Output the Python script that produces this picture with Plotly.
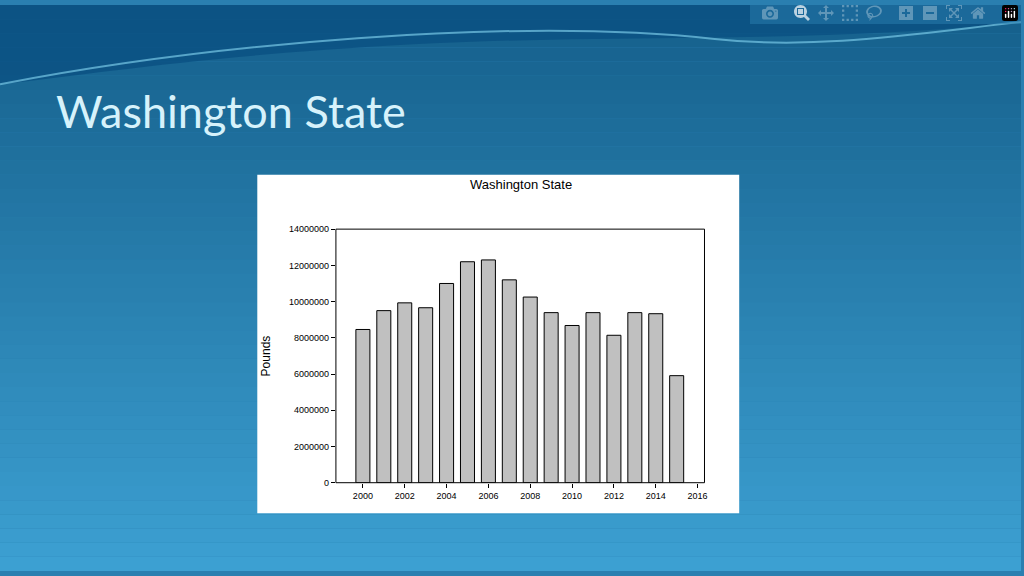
import plotly.graph_objects as go

years = list(range(2000, 2016))
pounds = [8460000, 9500000, 9930000, 9660000, 11000000, 12200000, 12300000, 11200000,
          10250000, 9390000, 8680000, 9390000, 8140000, 9390000, 9330000, 5910000]
x_ticks = list(range(2000, 2017, 2))
y_ticks = list(range(0, 14000001, 2000000))

fig = go.Figure()
fig.add_trace(go.Bar(x=years, y=pounds, width=0.67,
                     marker=dict(color="#c0c0c0", line=dict(color="black", width=1))))

# slide background: vertical gradient in bands
shapes = []
n = 40
top, bot = (22, 96, 140), (60, 160, 210)
for i in range(n):
    t = i / (n - 1)
    c = tuple(int(top[k] + (bot[k] - top[k]) * t) for k in range(3))
    shapes.append(dict(type="rect", xref="paper", yref="paper", layer="below",
                       x0=0, x1=1, y0=1 - (i + 1) / n, y1=1 - i / n,
                       fillcolor="rgb(%d,%d,%d)" % c, line=dict(width=0)))
# top wave
shapes.append(dict(type="path", xref="paper", yref="paper", layer="below",
                   path="M 0 1 L 1 1 L 1 0.97 C 0.8 0.93, 0.6 0.95, 0.4 0.93 C 0.2 0.91, 0.1 0.88, 0 0.86 Z",
                   fillcolor="rgba(10,80,130,0.8)", line=dict(width=0)))
shapes.append(dict(type="path", xref="paper", yref="paper", layer="below",
                   path="M 0 0.86 C 0.2 0.93, 0.5 0.98, 0.7 0.94 C 0.8 0.92, 0.9 0.95, 1 0.97",
                   line=dict(color="rgba(120,200,230,0.7)", width=2)))
# white chart box
shapes.append(dict(type="rect", xref="paper", yref="paper", layer="below",
                   x0=0.252, x1=0.724, y0=0.102, y1=0.700,
                   fillcolor="white", line=dict(width=0)))
# plot frame
shapes.append(dict(type="rect", xref="paper", yref="paper",
                   x0=0.329, x1=0.690, y0=0.156, y1=0.604,
                   line=dict(color="black", width=1)))

fig.update_layout(
    width=1024, height=576, margin=dict(l=0, r=0, t=0, b=0),
    paper_bgcolor="#2a7fb0", plot_bgcolor="white", showlegend=False,
    shapes=shapes,
    font=dict(family="Liberation Sans, Arial", size=9, color="black"),
    annotations=[
        dict(text="Washington State", xref="paper", yref="paper", x=0.053, y=0.812,
             xanchor="left", yanchor="middle", showarrow=False,
             font=dict(family="Lato, Open Sans", size=45, color="#d6f2fb")),
        dict(text="Washington State", xref="paper", yref="paper", x=0.51, y=0.682,
             xanchor="center", yanchor="middle", showarrow=False,
             font=dict(size=13, color="black")),
        dict(text="Pounds", xref="paper", yref="paper", x=0.26, y=0.38, textangle=-90,
             xanchor="center", yanchor="middle", showarrow=False,
             font=dict(size=12, color="black")),
    ],
    xaxis=dict(domain=[0.329, 0.690], range=[1998.71, 2016.33], tickvals=x_ticks,
               ticks="outside", ticklen=4, tickcolor="black", showgrid=False,
               zeroline=False, showline=False),
    yaxis=dict(domain=[0.156, 0.604], range=[0, 14000000], tickvals=y_ticks,
               tickformat="d", ticks="outside", ticklen=4, tickcolor="black",
               showgrid=False, zeroline=False, showline=False),
)

# quitar el margen por defecto del body
fig.write_html("out.html", post_script="document.body.style.margin='0';")
